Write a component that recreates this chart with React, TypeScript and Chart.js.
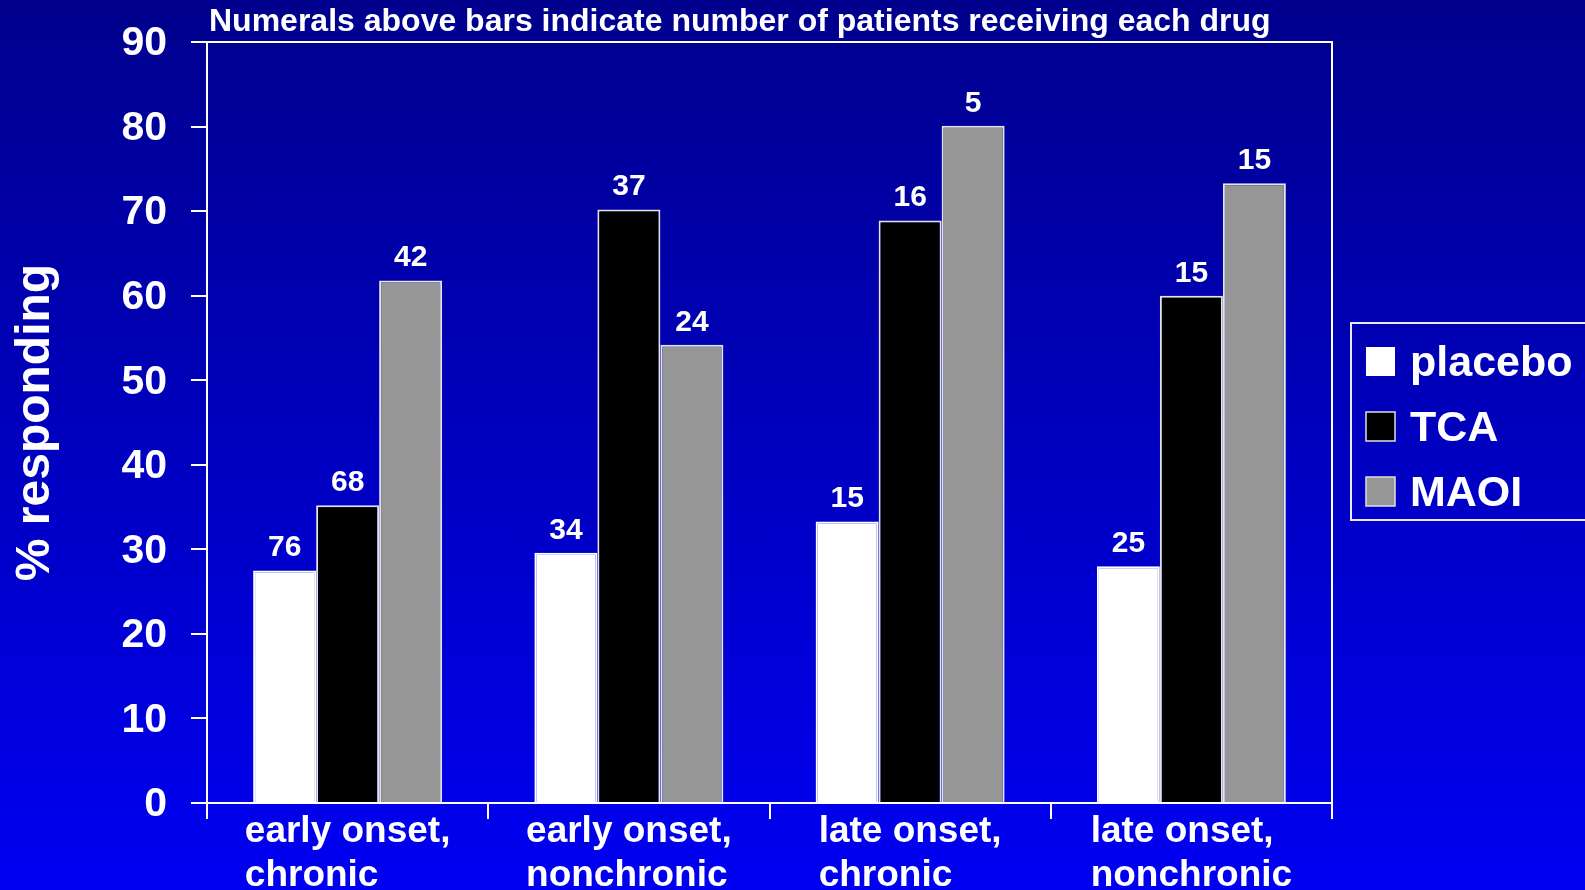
import React, { useEffect, useRef } from "react";
import { Chart, registerables } from "chart.js";

Chart.register(...registerables);

const categories: string[][] = [
  ["early onset,", "chronic"],
  ["early onset,", "nonchronic"],
  ["late onset,", "chronic"],
  ["late onset,", "nonchronic"],
];
const seriesNames = ["placebo", "TCA", "MAOI"];
const placeboValues = [27.5, 29.6, 33.3, 28.0];
const tcaValues = [35.2, 70.2, 68.9, 60.0];
const maoiValues = [61.8, 54.2, 80.1, 73.3];
const placeboCounts = [76, 34, 15, 25];
const tcaCounts = [68, 37, 16, 15];
const maoiCounts = [42, 24, 5, 15];
const yMin = 0;
const yMax = 90;
const yStep = 10;
const titleText = "Numerals above bars indicate number of patients receiving each drug";
const yAxisTitle = "% responding";

const FONT = '"Liberation Sans", Arial, Helvetica, sans-serif';
const W = 1585;
const H = 890;

const countsBySeries = [placeboCounts, tcaCounts, maoiCounts];

const decorPlugin = {
  id: "decor",
  afterDraw(chart: any) {
    const ctx = chart.ctx as CanvasRenderingContext2D;
    const area = chart.chartArea;
    ctx.save();
    // frame around plot area
    ctx.strokeStyle = "#ffffff";
    ctx.lineWidth = 2;
    ctx.beginPath();
    ctx.moveTo(area.left, area.top);
    ctx.lineTo(area.right, area.top);
    ctx.lineTo(area.right, area.bottom);
    ctx.stroke();

    // title
    ctx.fillStyle = "#ffffff";
    ctx.font = `bold 32px ${FONT}`;
    ctx.textAlign = "left";
    ctx.textBaseline = "alphabetic";
    ctx.fillText(titleText, area.left + 2, area.top - 11);

    // value labels above bars
    ctx.font = `bold 30px ${FONT}`;
    ctx.textAlign = "center";
    chart.data.datasets.forEach((ds: any, di: number) => {
      const meta = chart.getDatasetMeta(di);
      meta.data.forEach((el: any, i: number) => {
        ctx.fillText(String(countsBySeries[di][i]), el.x, el.y - 14);
      });
    });

    // x category labels (left-aligned block, centered under category)
    const xs = chart.scales.x;
    ctx.font = `bold 37px ${FONT}`;
    ctx.textAlign = "left";
    (chart.data.labels as string[][]).forEach((lines, i) => {
      const cx = xs.getPixelForValue(i);
      const maxW = Math.max(...lines.map((l) => ctx.measureText(l).width));
      const x0 = cx - maxW / 2;
      lines.forEach((line, j) => {
        ctx.fillText(line, x0, area.bottom + 39 + j * 44);
      });
    });

    // legend
    const lx = 1351;
    const ly = 323;
    ctx.strokeStyle = "#e8e8ff";
    ctx.lineWidth = 2;
    ctx.strokeRect(lx, ly, 400, 197);
    ctx.font = `bold 43px ${FONT}`;
    ctx.textAlign = "left";
    chart.data.datasets.forEach((ds: any, di: number) => {
      const sy = ly + 24 + di * 65;
      ctx.fillStyle = ds.backgroundColor;
      ctx.fillRect(1366, sy, 29, 29);
      if (di > 0) {
        ctx.strokeStyle = "#e0e0e0";
        ctx.lineWidth = 1.5;
        ctx.strokeRect(1366, sy, 29, 29);
      }
      ctx.fillStyle = "#ffffff";
      ctx.fillText(ds.label, 1410, sy + 29);
    });
    ctx.restore();
  },
};

export default function App() {
  const canvasRef = useRef<HTMLCanvasElement | null>(null);

  useEffect(() => {
    document.body.style.margin = "0";
    const canvas = canvasRef.current;
    if (!canvas) return;
    const chart = new Chart(canvas, {
      type: "bar",
      data: {
        labels: categories,
        datasets: [
          {
            label: seriesNames[0],
            data: placeboValues,
            backgroundColor: "#ffffff",
            borderColor: "#ffffff",
            borderWidth: 2,
          },
          {
            label: seriesNames[1],
            data: tcaValues,
            backgroundColor: "#000000",
            borderColor: "#e4e4e4",
            borderWidth: 2,
          },
          {
            label: seriesNames[2],
            data: maoiValues,
            backgroundColor: "#969696",
            borderColor: "#e4e4e4",
            borderWidth: 2,
          },
        ],
      },
      options: {
        responsive: false,
        animation: false,
        devicePixelRatio: 1,
        layout: { padding: { top: 42, right: 253, left: 0, bottom: 0 } },
        datasets: {
          bar: { categoryPercentage: 0.672, barPercentage: 1.0 },
        },
        plugins: {
          legend: { display: false },
          title: { display: false },
          tooltip: { enabled: false },
        },
        scales: {
          x: {
            type: "category",
            offset: true,
            grid: {
              offset: true,
              drawOnChartArea: false,
              drawTicks: true,
              tickLength: 16,
              color: "#ffffff",
              lineWidth: 2,
            },
            border: { display: true, color: "#ffffff", width: 2 },
            ticks: { display: false },
            afterFit: (scale: any) => {
              scale.height = 87;
              scale.paddingLeft = 0;
              scale.paddingRight = 0;
              scale.paddingTop = 0;
              scale.paddingBottom = 0;
            },
          },
          y: {
            min: yMin,
            max: yMax,
            grid: {
              drawOnChartArea: false,
              drawTicks: true,
              tickLength: 16,
              color: "#ffffff",
              lineWidth: 2,
            },
            border: { display: true, color: "#ffffff", width: 2 },
            ticks: {
              stepSize: yStep,
              color: "#ffffff",
              padding: 24,
              labelOffset: 2,
              font: { family: FONT, size: 41, weight: "bold" },
            },
            title: {
              display: true,
              text: yAxisTitle,
              color: "#ffffff",
              font: { family: FONT, size: 48, weight: "bold", lineHeight: 1 },
              padding: { top: 12, bottom: 0 },
            },
            afterFit: (scale: any) => {
              scale.width = 207;
              scale.paddingTop = 0;
              scale.paddingBottom = 0;
              scale.paddingLeft = 0;
              scale.paddingRight = 0;
            },
          },
        },
      },
      plugins: [decorPlugin],
    });
    return () => chart.destroy();
  }, []);

  return (
    <div
      style={{
        position: "fixed",
        left: 0,
        top: 0,
        width: W,
        height: H,
        background: "linear-gradient(to bottom, #00008c 0%, #0000bf 50%, #0000f2 100%)",
        overflow: "hidden",
      }}
    >
      <canvas ref={canvasRef} width={W} height={H} style={{ display: "block" }} />
    </div>
  );
}
